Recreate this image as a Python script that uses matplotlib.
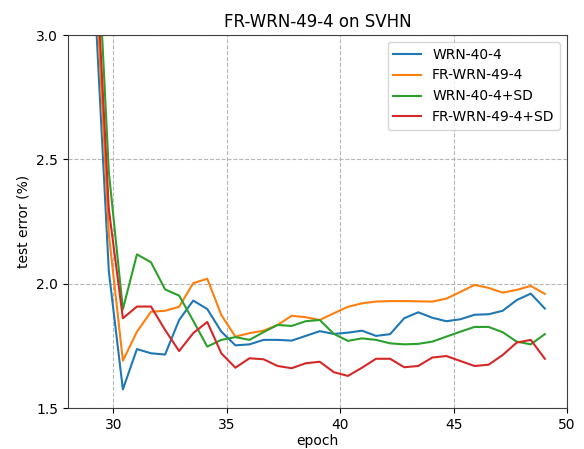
import numpy as np
import matplotlib
matplotlib.use("Agg")
import matplotlib.pyplot as plt

# epochs (one point every ~0.62 epoch)
epoch = [29.18, 29.80, 30.42, 31.04, 31.66, 32.28, 32.90, 33.52, 34.14, 34.76,
         35.38, 36.00, 36.62, 37.24, 37.86, 38.48, 39.10, 39.72, 40.34, 40.96,
         41.58, 42.20, 42.82, 43.44, 44.06, 44.68, 45.30, 45.92, 46.54, 47.16,
         47.78, 48.40, 49.02]

wrn = [3.15, 2.05, 1.575, 1.737, 1.720, 1.715, 1.854, 1.932, 1.898, 1.807,
       1.752, 1.756, 1.774, 1.774, 1.771, 1.790, 1.809, 1.798, 1.803, 1.811,
       1.790, 1.797, 1.861, 1.885, 1.863, 1.849, 1.857, 1.875, 1.877, 1.891,
       1.934, 1.960, 1.900]

fr_wrn = [3.30, 2.20, 1.690, 1.807, 1.887, 1.891, 1.907, 2.002, 2.020, 1.874,
          1.787, 1.801, 1.811, 1.834, 1.871, 1.865, 1.854, 1.881, 1.907, 1.921,
          1.928, 1.930, 1.930, 1.929, 1.928, 1.940, 1.967, 1.995, 1.983, 1.964,
          1.975, 1.991, 1.959]

wrn_sd = [3.60, 2.45, 1.897, 2.118, 2.086, 1.977, 1.952, 1.851, 1.747, 1.774,
          1.785, 1.774, 1.805, 1.834, 1.830, 1.849, 1.854, 1.798, 1.770, 1.780,
          1.774, 1.760, 1.756, 1.758, 1.767, 1.787, 1.807, 1.826, 1.826, 1.805,
          1.767, 1.756, 1.797]

fr_wrn_sd = [3.40, 2.30, 1.861, 1.908, 1.908, 1.814, 1.729, 1.801, 1.846, 1.720,
             1.662, 1.700, 1.696, 1.669, 1.660, 1.680, 1.686, 1.644, 1.629, 1.662,
             1.698, 1.698, 1.664, 1.669, 1.703, 1.709, 1.689, 1.669, 1.674, 1.713,
             1.763, 1.774, 1.698]

fig = plt.figure(figsize=(5.84, 4.49), dpi=100)
ax = fig.add_axes([0.1164, 0.0913, 0.8546, 0.8307])

ax.plot(epoch, wrn, label="WRN-40-4")
ax.plot(epoch, fr_wrn, label="FR-WRN-49-4")
ax.plot(epoch, wrn_sd, label="WRN-40-4+SD")
ax.plot(epoch, fr_wrn_sd, label="FR-WRN-49-4+SD")

ax.set_xlim(28, 50)
ax.set_ylim(1.5, 3.0)
ax.set_xticks([30, 35, 40, 45, 50])
ax.set_yticks([1.5, 2.0, 2.5, 3.0])
ax.grid(True, linestyle="--", color="#b0b0b0", alpha=0.9)
for s in ax.spines.values():
    s.set_color("#404040")
ax.set_xlabel("epoch", labelpad=1.5)
ax.set_ylabel("test error (%)")
ax.set_title("FR-WRN-49-4 on SVHN", fontsize=12)
ax.legend(loc="upper right")

fig.savefig("out.png", dpi=100)
